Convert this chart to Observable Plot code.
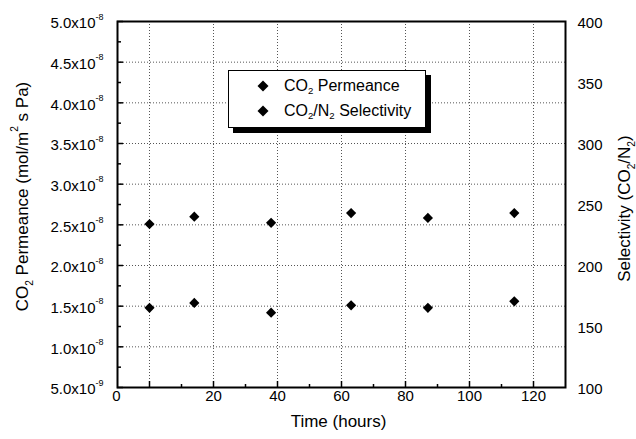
<!DOCTYPE html>
<html><head><meta charset="utf-8">
<script src="https://cdn.jsdelivr.net/npm/d3@7"></script>
<script src="https://cdn.jsdelivr.net/npm/@observablehq/plot@0.6"></script>
<style>
body{margin:0;background:#fff;}
#wrap{position:relative;width:636px;height:439px;font-family:"Liberation Sans",Arial,sans-serif;color:#000;}
g[aria-label="ticklabels"] text{letter-spacing:1.5px;}
g[aria-label="ticklabels"] text tspan.sx{letter-spacing:0;}
.legend{position:absolute;left:228px;top:70px;width:198px;height:58px;border:1.5px solid #000;background:#fff;box-shadow:5px 5px 0 #000;box-sizing:border-box;font-size:16px;}
.legend .row{position:absolute;left:0;white-space:nowrap;}
.legend svg{position:absolute;}
.legend .lab{position:absolute;left:55px;}
.legend sub{font-size:60%;vertical-align:-0.35em;line-height:0;}
</style>
</head><body>
<div id="wrap"></div>
<script>
// ---- data ----
const timeHours   = [0, 14, 38, 63, 87, 114];
const permeance   = [1.48e-8, 1.54e-8, 1.42e-8, 1.51e-8, 1.48e-8, 1.56e-8];
const selectivity = [234, 240, 235, 243, 239, 243];
const seriesNames = ["CO<sub>2</sub> Permeance", "CO<sub>2</sub>/N<sub>2</sub> Selectivity"];

const xTicks      = [0, 20, 40, 60, 80, 100, 120];
const xMinorTicks = [10, 30, 50, 70, 90, 110];
const xTickLabels = ["20", "40", "60", "80", "100", "120"];
const xLabelTicks = [20, 40, 60, 80, 100, 120];
const xOriginLabel = "0";

const leftTicks = [5e-9, 1e-8, 1.5e-8, 2e-8, 2.5e-8, 3e-8, 3.5e-8, 4e-8, 4.5e-8, 5e-8];
const leftTickLabels = ["5.0x10^{-9}","1.0x10^{-8}","1.5x10^{-8}","2.0x10^{-8}","2.5x10^{-8}",
                        "3.0x10^{-8}","3.5x10^{-8}","4.0x10^{-8}","4.5x10^{-8}","5.0x10^{-8}"];
const leftGrid  = [1e-8, 1.5e-8, 2e-8, 2.5e-8, 3e-8, 3.5e-8, 4e-8, 4.5e-8];
const leftMinor = [7.5e-9, 1.25e-8, 1.75e-8, 2.25e-8, 2.75e-8, 3.25e-8, 3.75e-8, 4.25e-8, 4.75e-8];
const rightTicks = [100, 150, 200, 250, 300, 350, 400];

const xTitle     = "Time (hours)";
const leftTitle  = "CO_{2} Permeance (mol/m^{2} s Pa)";
const rightTitle = "Selectivity (CO_{2}/N_{2})";

// ---- layout ----
const W = 636, H = 439, mL = 117, mR = 71, mT = 21, mB = 52;
const innerW = W - mL - mR, innerH = H - mT - mB;
const leftDomain = [5e-9, 5e-8], rightDomain = [100, 400];
const toLeft = s => leftDomain[0] + (s - rightDomain[0]) / (rightDomain[1] - rightDomain[0]) * (leftDomain[1] - leftDomain[0]);

const permData = timeHours.map((t, i) => ({t, v: permeance[i]}));
const selData  = timeHours.map((t, i) => ({t, v: toLeft(selectivity[i])}));
const leftLab  = leftTicks.map((v, i) => ({v, s: leftTickLabels[i]}));
const xLab     = xLabelTicks.map((v, i) => ({v, s: xTickLabels[i]}));

const grid = {stroke: "#555", strokeOpacity: 1, strokeDasharray: "1,2", strokeWidth: 1};

const chart = Plot.plot({
  width: W, height: H,
  marginLeft: mL, marginRight: mR, marginTop: mT, marginBottom: mB,
  x: {domain: [-10, 130], axis: null},
  y: {domain: leftDomain, axis: null},
  style: {fontFamily: '"Liberation Sans", Arial, sans-serif', color: "#000", background: "#fff"},
  marks: [
    Plot.gridX(xTicks, grid),
    Plot.gridY(leftGrid, grid),
    Plot.tickX(xTicks, {x: d => d, insetTop: innerH - 6, stroke: "#000", strokeWidth: 1.5}),
    Plot.tickX(xMinorTicks, {x: d => d, insetTop: innerH - 3, stroke: "#000", strokeWidth: 1.5}),
    Plot.tickY(leftTicks, {y: d => d, insetRight: innerW - 6, stroke: "#000", strokeWidth: 1.5}),
    Plot.tickY(leftMinor, {y: d => d, insetRight: innerW - 4, stroke: "#000", strokeWidth: 1.5}),
    Plot.frame({stroke: "#000", strokeWidth: 2}),
    Plot.dot(permData, {x: "t", y: "v", symbol: "diamond2", r: 4.6, fill: "#000", stroke: "none"}),
    Plot.dot(selData,  {x: "t", y: "v", symbol: "diamond2", r: 4.6, fill: "#000", stroke: "none"}),
    // tick labels
    Plot.text(xLab, {x: "v", text: "s", frameAnchor: "bottom", lineAnchor: "top", dy: 3, fontSize: 15, ariaLabel: "ticklabels"}),
    Plot.text([xOriginLabel], {frameAnchor: "bottom-left", lineAnchor: "top", textAnchor: "middle", dx: -1, dy: 3, fontSize: 15, ariaLabel: "ticklabels"}),
    Plot.text(leftLab, {y: "v", text: "s", frameAnchor: "left", textAnchor: "end", dx: -14, dy: 2, fontSize: 15, ariaLabel: "ticklabels"}),
    Plot.text(rightTicks, {y: d => toLeft(d), text: d => String(d), frameAnchor: "right", textAnchor: "start", dx: 12, dy: 2, fontSize: 15, ariaLabel: "ticklabels"}),
    // titles
    Plot.text([xTitle], {frameAnchor: "bottom", lineAnchor: "top", textAnchor: "middle", dx: -3, dy: 27, fontSize: 17}),
    Plot.text([leftTitle], {frameAnchor: "left", rotate: -90, textAnchor: "middle", lineAnchor: "middle", dx: -95, dy: -8, fontSize: 17}),
    Plot.text([rightTitle], {frameAnchor: "right", rotate: -90, textAnchor: "middle", lineAnchor: "middle", dx: 59, dy: 4, fontSize: 17})
  ]
});

const wrap = document.getElementById("wrap");
wrap.appendChild(chart);

// rich text: _{..} subscript, ^{..} superscript
function richify(root) {
  d3.select(root).selectAll("text").each(function() {
    const s = this.textContent;
    if (!/[_^]\{/.test(s)) return;
    const base = parseFloat(getComputedStyle(this).fontSize) || 15;
    const el = d3.select(this);
    el.text(null);
    const re = /([_^])\{([^}]*)\}/g;
    let last = 0, cur = 0, m;
    const add = (txt, kind) => {
      if (!txt) return;
      const target = kind === "^" ? -0.57 * base : kind === "_" ? 0.3 * base : 0;
      const t = el.append("tspan").text(txt).attr("dy", target - cur);
      if (kind) t.attr("font-size", 0.6 * base).attr("class", "sx");
      cur = target;
    };
    while ((m = re.exec(s))) {
      add(s.slice(last, m.index), null);
      add(m[2], m[1]);
      last = re.lastIndex;
    }
    add(s.slice(last), null);
  });
}
richify(chart);

// legend
const leg = document.createElement("div");
leg.className = "legend";
const rowsY = [15, 40];
seriesNames.forEach((name, i) => {
  const row = document.createElement("div");
  row.className = "row";
  row.style.top = rowsY[i] - 9 + "px";
  row.innerHTML = `<svg width="12" height="12" style="left:28px;top:3px"><polygon points="6,0.5 11.5,6 6,11.5 0.5,6" fill="#000"/></svg><span class="lab">${name}</span>`;
  leg.appendChild(row);
});
wrap.appendChild(leg);
</script>
</body></html>
